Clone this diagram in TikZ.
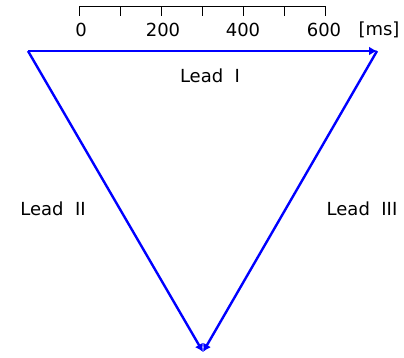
\documentclass[tikz,border=0pt]{standalone}
\usepackage{fontspec}
\setmainfont{DejaVu Sans}
\usetikzlibrary{arrows.meta}

\begin{document}
\begin{tikzpicture}[x=1pt,y=-1pt,
    lead/.style={draw=blue,line width=2.4pt,-{Latex[length=8pt,width=9pt]}},
    lbl/.style={font=\fontsize{18}{20}\selectfont,inner sep=0pt}]
   \useasboundingbox (0,0) rectangle (404,358);
   %vertices
   \coordinate (RA) at (28,51);
   \coordinate (LA) at (377,51);
   \coordinate (LL) at (203,352);
   %scale
   \coordinate (s0) at (79,7);
   \coordinate (s6) at (325,7);
   \draw[line width=1pt] (s0) -- (s6);
   \foreach \k in {0,...,6}
      \draw[line width=1pt] (79+41*\k,6.5) -- (79+41*\k,16);
   \node[lbl] (t0) at (81,29.5) {0};
   \node[lbl] (t200) at (163,29.5) {200};
   \node[lbl] (t400) at (243,29.5) {400};
   \node[lbl] (t600) at (324,29.5) {600};
   \node[lbl] (ms) at (379,29.5) {[ms]};
   %edges
   \draw[lead] (RA) -- (LA);
   \draw[lead] (RA) -- (LL);
   \draw[lead] (LA) -- (LL);
   %labels
   \node[lbl] (l1) at (210,76) {Lead\ \ I};
   \node[lbl] (l2) at (53,209) {Lead\ \ II};
   \node[lbl] (l3) at (362,209) {Lead\ \ III};
\end{tikzpicture}
\end{document}
